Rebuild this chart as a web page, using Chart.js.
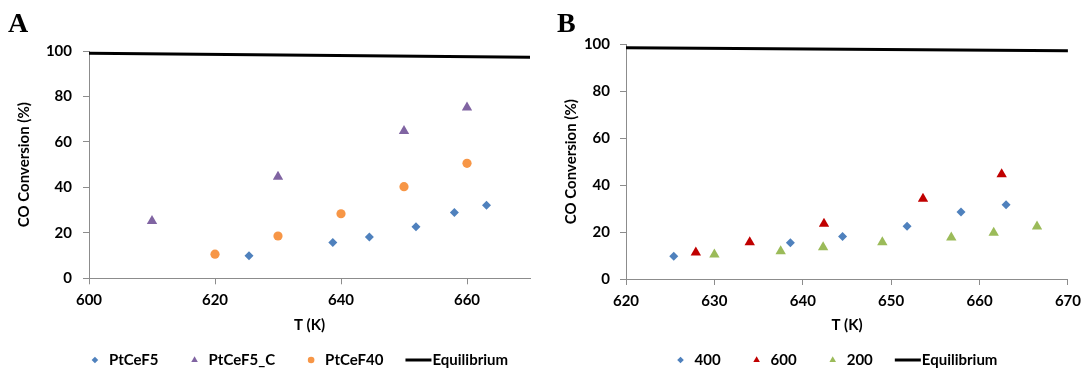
<!DOCTYPE html>
<html>
<head>
<meta charset="utf-8">
<script src="https://cdn.jsdelivr.net/npm/chart.js@4.4.1/dist/chart.umd.min.js"></script>
<style>
    body { margin: 0; background: #fff; width: 1088px; height: 370px; overflow: hidden; position: relative; }
    .panel { position: absolute; top: 0; height: 370px; }
    #panelA { left: 0; width: 545px; }
    #panelB { left: 545px; width: 543px; }
    .tag { position: absolute; top: 9px; font: bold 28px/28px "Liberation Serif", "Times New Roman", serif; color: #000; }
</style>
</head>
<body>
<div class="panel" id="panelA"><canvas id="chartA" width="545" height="370"></canvas></div>
<div class="panel" id="panelB"><canvas id="chartB" width="543" height="370"></canvas></div>
<div class="tag" style="left:8px">A</div>
<div class="tag" style="left:557px">B</div>
<script>
// Panel A - catalysts
const tempPtCeF5 = [625.4, 638.7, 644.5, 651.9, 658.0, 663.1];
const convPtCeF5 = [9.9, 15.8, 18.2, 22.7, 28.9, 32.1];
const tempPtCeF5C = [610, 630, 650, 660];
const convPtCeF5C = [25.2, 44.7, 64.8, 75.1];
const tempPtCeF40 = [620, 630, 640, 650, 660];
const convPtCeF40 = [10.6, 18.6, 28.4, 40.3, 50.6];
const eqTempA = [600, 670];
const eqConvA = [99.0, 97.3];

// Panel B - flow rates
const temp400 = [625.4, 638.6, 644.5, 651.8, 657.9, 663.0];
const conv400 = [9.7, 15.4, 18.1, 22.5, 28.5, 31.6];
const temp600 = [627.9, 634.0, 642.4, 653.6, 662.5];
const conv600 = [11.3, 15.7, 23.5, 34.2, 44.6];
const temp200 = [630.0, 637.5, 642.3, 649.0, 656.8, 661.6, 666.5];
const conv200 = [10.4, 11.8, 13.5, 15.7, 17.7, 19.7, 22.4];
const eqTempB = [620, 670];
const eqConvB = [98.5, 97.3];

const yTicks = [0, 20, 40, 60, 80, 100];

const FONT = 'Lato, "Open Sans", sans-serif';
const AXIS_GREY = '#8c8c8c';

function pts(xs, ys) {
    return xs.map((x, i) => ({ x: x, y: ys[i] }));
}

function markers(label, xs, ys, color, style, radius) {
    return {
        label: label,
        data: pts(xs, ys),
        pointStyle: style,
        pointRadius: radius,
        pointHoverRadius: radius,
        backgroundColor: color,
        borderColor: color,
        borderWidth: 0,
        showLine: false
    };
}

function equilibrium(xs, ys) {
    return {
        label: 'Equilibrium',
        data: pts(xs, ys),
        showLine: true,
        borderColor: '#000',
        backgroundColor: '#000',
        borderWidth: 3,
        pointRadius: 0
    };
}

// legend drawn under the x axis title, Excel style
const legendBelow = {
    id: 'legendBelow',
    afterDraw(chart, args, opts) {
        const ctx = chart.ctx;
        const area = chart.chartArea;
        ctx.save();
        ctx.font = 'bold 15px ' + FONT;
        ctx.textBaseline = 'middle';
        const items = chart.data.datasets.map(ds => {
            const isLine = ds.showLine;
            const offset = isLine ? 27 : 18;
            return { ds: ds, isLine: isLine, offset: offset, w: offset + ctx.measureText(ds.label).width };
        });
        let total = 0;
        items.forEach((it, i) => {
            total += it.w;
            if (i > 0) total += it.isLine ? opts.lineGap : opts.gap;
        });
        let x = (area.left + area.right) / 2 - opts.shift - total / 2;
        const y = opts.y;
        items.forEach((it, i) => {
            if (i > 0) x += it.isLine ? opts.lineGap : opts.gap;
            if (it.isLine) {
                ctx.strokeStyle = it.ds.borderColor;
                ctx.lineWidth = 3;
                ctx.beginPath();
                ctx.moveTo(x, y);
                ctx.lineTo(x + 26, y);
                ctx.stroke();
            } else {
                ctx.fillStyle = it.ds.backgroundColor;
                Chart.helpers.drawPoint(ctx, {
                    pointStyle: it.ds.pointStyle,
                    radius: it.ds.pointStyle === 'triangle' ? 3.8 : 3.3,
                    rotation: 0,
                    borderWidth: 0
                }, x + 4, y);
            }
            ctx.fillStyle = '#000';
            ctx.fillText(it.ds.label, x + it.offset, y);
            x += it.w;
        });
        ctx.restore();
    }
};

function buildOptions(cfg) {
    return {
        responsive: false,
        animation: false,
        layout: {
            padding: { left: cfg.padLeft, right: cfg.padRight, top: cfg.padTop, bottom: 30 }
        },
        plugins: {
            legend: { display: false },
            tooltip: { enabled: false },
            legendBelow: { y: 360, gap: 32, lineGap: 22, shift: 10 }
        },
        scales: {
            x: {
                type: 'linear',
                min: cfg.xMin,
                max: cfg.xMax,
                afterFit: scale => { scale.height = cfg.xHeight; },
                ticks: {
                    stepSize: cfg.xStep,
                    includeBounds: false,
                    padding: 7,
                    color: '#000',
                    font: { family: FONT, size: 15, weight: 'bold' }
                },
                grid: { drawOnChartArea: false, drawTicks: true, tickLength: 6, color: AXIS_GREY },
                border: { color: AXIS_GREY, width: 1 },
                title: {
                    display: true,
                    text: 'T (K)',
                    color: '#000',
                    font: { family: FONT, size: 15, weight: 'bold' },
                    padding: { top: 0, bottom: 6 }
                }
            },
            y: {
                min: 0,
                max: 100,
                afterFit: scale => { scale.width = cfg.yWidth; },
                afterBuildTicks: scale => { scale.ticks = yTicks.map(v => ({ value: v })); },
                ticks: {
                    padding: cfg.yPad,
                    color: '#000',
                    font: { family: FONT, size: 15, weight: 'bold' }
                },
                grid: { drawOnChartArea: false, drawTicks: true, tickLength: 6, color: AXIS_GREY },
                border: { color: AXIS_GREY, width: 1 },
                title: {
                    display: true,
                    text: 'CO Conversion (%)',
                    color: '#000',
                    font: { family: FONT, size: 15, weight: 'bold' },
                    padding: { top: 5, bottom: 0 }
                }
            }
        }
    };
}

document.addEventListener('DOMContentLoaded', function() {
    // Panel A
    new Chart(document.getElementById('chartA').getContext('2d'), {
        type: 'scatter',
        data: {
            datasets: [
                markers('PtCeF5', tempPtCeF5, convPtCeF5, '#4F81BD', 'rectRot', 4.5),
                markers('PtCeF5_C', tempPtCeF5C, convPtCeF5C, '#8064A2', 'triangle', 6),
                markers('PtCeF40', tempPtCeF40, convPtCeF40, '#F79646', 'circle', 4.6),
                equilibrium(eqTempA, eqConvA)
            ]
        },
        options: buildOptions({
            padLeft: 10, padRight: 15, padTop: 51,
            yWidth: 79, yPad: 11, xHeight: 61.7,
            xMin: 600, xMax: 670, xStep: 20
        }),
        plugins: [legendBelow]
    });

    // Panel B
    new Chart(document.getElementById('chartB').getContext('2d'), {
        type: 'scatter',
        data: {
            datasets: [
                markers('400', temp400, conv400, '#4F81BD', 'rectRot', 4.5),
                markers('600', temp600, conv600, '#C00000', 'triangle', 6),
                markers('200', temp200, conv200, '#9BBB59', 'triangle', 6),
                equilibrium(eqTempB, eqConvB)
            ]
        },
        options: buildOptions({
            padLeft: 12, padRight: 16.3, padTop: 44.3,
            yWidth: 69, yPad: 10, xHeight: 61,
            xMin: 620, xMax: 670, xStep: 10
        }),
        plugins: [legendBelow]
    });
});
</script>
</body>
</html>
